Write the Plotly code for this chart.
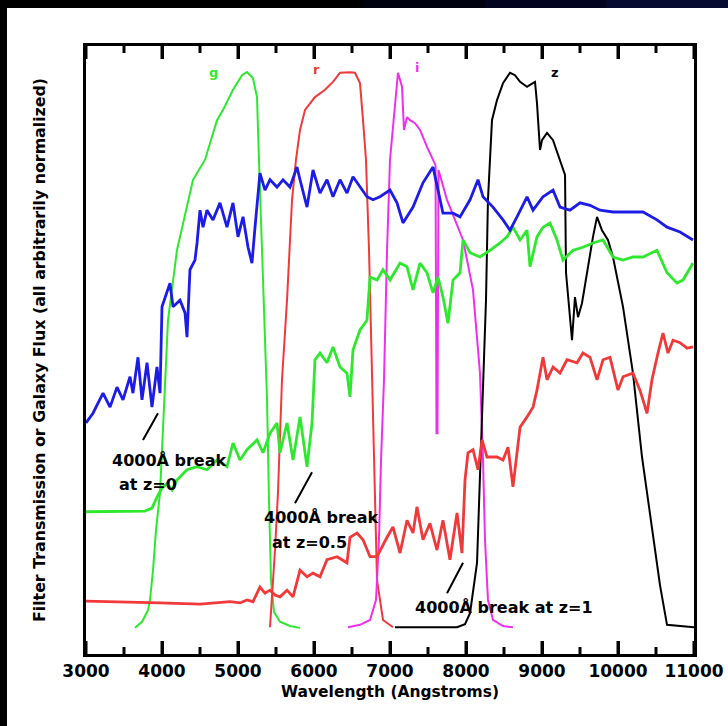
import plotly.graph_objects as go

# ---------------- filter transmission curves (normalized) ----------------
g_wave = [3645, 3737, 3816, 3842, 3882, 3921, 3974, 4026, 4079, 4197, 4408, 4566,
          4724, 4803, 4934, 5053, 5118, 5197, 5250, 5276, 5303, 5329, 5355, 5382,
          5408, 5434, 5474, 5553, 5684, 5816]
g_trans = [0.043, 0.053, 0.072, 0.089, 0.138, 0.204, 0.265, 0.418, 0.549, 0.664, 0.780, 0.813,
           0.878, 0.895, 0.928, 0.952, 0.957, 0.947, 0.916, 0.813, 0.714, 0.648, 0.533, 0.418,
           0.253, 0.122, 0.069, 0.053, 0.046, 0.043]

r_wave = [5421, 5447, 5487, 5526, 5579, 5645, 5711, 5763, 5816, 5882, 6013, 6145,
          6250, 6342, 6474, 6539, 6605, 6645, 6684, 6724, 6763, 6803, 6829, 6908, 7039]
r_trans = [0.044, 0.089, 0.171, 0.265, 0.451, 0.582, 0.747, 0.813, 0.862, 0.895, 0.916, 0.928,
           0.941, 0.956, 0.957, 0.956, 0.939, 0.878, 0.813, 0.664, 0.451, 0.265, 0.122, 0.056, 0.044]

i_wave = [6447, 6605, 6737, 6816, 6855, 6882, 6921, 6961, 7000, 7066, 7105, 7158,
          7184, 7224, 7263, 7329, 7395, 7487, 7566, 7599, 7612, 7625, 7638, 7750,
          7961, 8092, 8184, 8224, 8250, 8289, 8355, 8487, 8618]
i_trans = [0.044, 0.048, 0.056, 0.089, 0.188, 0.319, 0.451, 0.664, 0.813, 0.906, 0.956, 0.933,
           0.862, 0.883, 0.878, 0.873, 0.862, 0.834, 0.813, 0.804, 0.363, 0.363, 0.796, 0.747,
           0.681, 0.599, 0.462, 0.319, 0.188, 0.089, 0.056, 0.046, 0.044]

z_wave = [7066, 7882, 7987, 8053, 8145, 8184, 8224, 8263, 8289, 8316, 8342, 8408,
          8487, 8579, 8645, 8711, 8803, 8842, 8908, 8934, 8974, 9000, 9066, 9145,
          9237, 9303, 9316, 9355, 9395, 9434, 9474, 9526, 9592, 9671, 9724, 9789,
          9868, 9934, 10066, 10197, 10316, 10447, 10553, 10645, 11000]
z_trans = [0.044, 0.044, 0.049, 0.067, 0.150, 0.286, 0.451, 0.582, 0.747, 0.813, 0.878, 0.911,
           0.939, 0.956, 0.952, 0.941, 0.933, 0.936, 0.941, 0.906, 0.829, 0.845, 0.857, 0.845,
           0.813, 0.788, 0.627, 0.571, 0.516, 0.587, 0.554, 0.577, 0.627, 0.686, 0.719, 0.697,
           0.681, 0.653, 0.571, 0.462, 0.324, 0.204, 0.113, 0.048, 0.044]

# ---------------- galaxy spectra (arbitrary flux) ----------------
z0_wave = [3000, 3092, 3224, 3316, 3408, 3487, 3579, 3618, 3684, 3737, 3803, 3868,
           3934, 3974, 4000, 4066, 4105, 4145, 4237, 4303, 4329, 4368, 4434, 4461,
           4500, 4540, 4592, 4671, 4763, 4855, 4934, 5000, 5066, 5132, 5184, 5224,
           5289, 5355, 5421, 5513, 5592, 5684, 5776, 5816, 5908, 5987, 6079, 6171,
           6250, 6342, 6434, 6513, 6605, 6697, 6776, 6868, 7000, 7092, 7171, 7303,
           7434, 7566, 7632, 7697, 7829, 7921, 8053, 8158, 8224, 8355, 8487, 8579,
           8671, 8803, 8882, 9013, 9145, 9237, 9368, 9500, 9632, 9763, 9934, 10158,
           10329, 10513, 10645, 10816, 10987]
z0_flux = [0.380, 0.396, 0.429, 0.406, 0.439, 0.418, 0.456, 0.429, 0.488, 0.418, 0.479, 0.406,
           0.472, 0.429, 0.571, 0.594, 0.610, 0.571, 0.582, 0.561, 0.521, 0.632, 0.648, 0.676,
           0.730, 0.702, 0.730, 0.714, 0.742, 0.702, 0.742, 0.686, 0.719, 0.669, 0.643, 0.702,
           0.791, 0.763, 0.780, 0.768, 0.780, 0.768, 0.801, 0.780, 0.735, 0.796, 0.758, 0.780,
           0.752, 0.780, 0.758, 0.785, 0.768, 0.752, 0.747, 0.752, 0.763, 0.742, 0.709, 0.735,
           0.775, 0.801, 0.763, 0.725, 0.725, 0.719, 0.747, 0.780, 0.752, 0.735, 0.714, 0.697,
           0.719, 0.752, 0.730, 0.752, 0.763, 0.735, 0.730, 0.742, 0.738, 0.730, 0.727, 0.727,
           0.727, 0.714, 0.702, 0.694, 0.681]

z05_wave = [3000, 3447, 3776, 3868, 3934, 4000, 4066, 4132, 4197, 4329, 4461, 4592,
            4724, 4855, 4934, 5026, 5118, 5250, 5329, 5421, 5513, 5553, 5645, 5724,
            5816, 5908, 5974, 6013, 6079, 6171, 6250, 6342, 6434, 6474, 6513, 6605,
            6697, 6737, 6829, 6908, 7000, 7132, 7224, 7303, 7395, 7487, 7566, 7632,
            7697, 7763, 7829, 7921, 7961, 8053, 8184, 8316, 8447, 8539, 8618, 8711,
            8803, 8842, 8934, 9013, 9105, 9197, 9276, 9408, 9539, 9671, 9803, 9934,
            10066, 10197, 10329, 10513, 10645, 10776, 10855, 10987]
z05_flux = [0.234, 0.234, 0.235, 0.240, 0.258, 0.273, 0.280, 0.270, 0.286, 0.303, 0.308, 0.303,
            0.319, 0.308, 0.347, 0.319, 0.336, 0.352, 0.331, 0.363, 0.380, 0.331, 0.380, 0.319,
            0.390, 0.308, 0.380, 0.484, 0.495, 0.479, 0.505, 0.472, 0.462, 0.423, 0.500, 0.533,
            0.549, 0.620, 0.615, 0.632, 0.615, 0.643, 0.637, 0.599, 0.643, 0.627, 0.594, 0.620,
            0.587, 0.544, 0.615, 0.627, 0.681, 0.660, 0.653, 0.664, 0.676, 0.686, 0.702, 0.681,
            0.697, 0.637, 0.686, 0.702, 0.709, 0.681, 0.648, 0.664, 0.669, 0.676, 0.681, 0.653,
            0.648, 0.653, 0.653, 0.664, 0.627, 0.610, 0.615, 0.643]

z1_wave = [3000, 3447, 3974, 4500, 4895, 5026, 5118, 5197, 5289, 5355, 5421, 5487,
           5553, 5645, 5724, 5816, 5908, 5987, 6079, 6171, 6303, 6434, 6474, 6566,
           6645, 6737, 6829, 6961, 7039, 7132, 7224, 7303, 7355, 7434, 7526, 7618,
           7697, 7789, 7882, 7947, 7987, 8026, 8092, 8158, 8211, 8276, 8408, 8487,
           8553, 8618, 8711, 8803, 8882, 8934, 9013, 9066, 9145, 9237, 9329, 9461,
           9539, 9632, 9724, 9803, 9895, 10000, 10066, 10197, 10289, 10382, 10447, 10526,
           10592, 10658, 10724, 10816, 10908, 10987]
z1_flux = [0.087, 0.086, 0.084, 0.082, 0.086, 0.084, 0.089, 0.086, 0.110, 0.100, 0.105, 0.097,
           0.094, 0.105, 0.094, 0.138, 0.127, 0.133, 0.127, 0.155, 0.160, 0.150, 0.192, 0.199,
           0.188, 0.160, 0.160, 0.192, 0.209, 0.166, 0.220, 0.199, 0.242, 0.188, 0.215, 0.171,
           0.220, 0.155, 0.232, 0.166, 0.286, 0.331, 0.336, 0.303, 0.352, 0.324, 0.324, 0.319,
           0.340, 0.275, 0.373, 0.390, 0.406, 0.434, 0.488, 0.451, 0.472, 0.462, 0.484, 0.479,
           0.495, 0.488, 0.451, 0.484, 0.488, 0.434, 0.456, 0.462, 0.434, 0.396, 0.451, 0.495,
           0.528, 0.495, 0.516, 0.512, 0.503, 0.505]

# ---------------- labels ----------------
x_ticks = [3000, 4000, 5000, 6000, 7000, 8000, 9000, 10000, 11000]
x_minor_ticks = [3500, 4500, 5500, 6500, 7500, 8500, 9500, 10500]
filter_names = ["g", "r", "i", "z"]
filter_label_pos = [(4671, 0.957), (6039, 0.961), (7355, 0.964), (9171, 0.957)]
break_text = [("4000Å break", 3316, 0.319), ("at z=0", 3408, 0.278),
              ("4000Å break", 5316, 0.225), ("at z=0.5", 5421, 0.184),
              ("4000Å break at z=1", 7303, 0.077)]
break_pointers = [((3750, 0.352), (3947, 0.396)),
                  ((5750, 0.248), (5974, 0.299)),
                  ((7750, 0.100), (7961, 0.150))]

GREEN = "#2ee82e"
BLUE = "#1c1ce6"
RED = "#f03a3a"
MAGENTA = "#ee30ee"
BLACK = "#000000"

fig = go.Figure()

for wave, trans, color in [(g_wave, g_trans, GREEN), (r_wave, r_trans, RED),
                           (i_wave, i_trans, MAGENTA), (z_wave, z_trans, BLACK)]:
    fig.add_trace(go.Scatter(x=wave, y=trans, mode="lines",
                             line=dict(color=color, width=2), showlegend=False))

for wave, flux, color in [(z1_wave, z1_flux, RED), (z05_wave, z05_flux, GREEN),
                          (z0_wave, z0_flux, BLUE)]:
    fig.add_trace(go.Scatter(x=wave, y=flux, mode="lines",
                             line=dict(color=color, width=2.8), showlegend=False))

font_b = dict(family="DejaVu Sans", color="black", weight="bold")

annotations = []
for name, (wx, wy), color in zip(filter_names, filter_label_pos,
                                 [GREEN, RED, MAGENTA, BLACK]):
    annotations.append(dict(x=wx, y=wy, text=name, showarrow=False,
                            font=dict(family="DejaVu Sans", size=13, color=color,
                                      weight="bold")))
for txt, wx, wy in break_text:
    annotations.append(dict(x=wx, y=wy, text=txt, showarrow=False, xanchor="left",
                            yanchor="middle", font=dict(size=16, **font_b)))

shapes = []
for (x0, y0), (x1, y1) in break_pointers:
    shapes.append(dict(type="line", xref="x", yref="y", x0=x0, y0=y0, x1=x1, y1=y1,
                       line=dict(color="black", width=2)))

L, R, T, B = 86, 34, 46, 72
W, H = 728, 726
pw, ph = W - L - R, H - T - B

# inward tick marks on the bottom and top frame edges
for vals, tlen in [(x_ticks, 13), (x_minor_ticks, 7)]:
    frac = tlen / ph
    for v in vals:
        shapes.append(dict(type="line", xref="x", yref="paper", x0=v, x1=v, y0=0, y1=frac,
                           line=dict(color="black", width=3), layer="above"))
        shapes.append(dict(type="line", xref="x", yref="paper", x0=v, x1=v, y0=1, y1=1 - frac,
                           line=dict(color="black", width=3), layer="above"))


def px(xp):
    return (xp - L) / pw


def py(yp):
    return (H - B - yp) / ph


# dark frame along the top and left edges of the page
shapes.append(dict(type="rect", xref="paper", yref="paper", x0=px(0), x1=px(7),
                   y0=py(H), y1=py(0), fillcolor="black", line=dict(width=0), layer="above"))
band_cols = ["#000000", "#000000", "#000000", "#010210", "#030520", "#070a30"]
seg = W / len(band_cols)
for k, c in enumerate(band_cols):
    shapes.append(dict(type="rect", xref="paper", yref="paper", x0=px(k * seg),
                       x1=px((k + 1) * seg + 1), y0=py(8), y1=py(0), fillcolor=c,
                       line=dict(width=0), layer="above"))

fig.update_layout(
    width=W, height=H,
    margin=dict(l=L, r=R, t=T, b=B, autoexpand=False),
    paper_bgcolor="white", plot_bgcolor="white",
    annotations=annotations, shapes=shapes,
    xaxis=dict(range=[3000, 11000], tickmode="array", tickvals=x_ticks,
               ticktext=[str(v) for v in x_ticks],
               ticks="inside", ticklen=13, tickwidth=3, tickcolor="black",
               showline=True, linecolor="black", linewidth=3, mirror="allticks",
               showgrid=False, zeroline=False, automargin=False,
               tickfont=dict(size=17, **font_b),
               title=dict(text="Wavelength (Angstroms)", font=dict(size=15.5, **font_b),
                          standoff=6)),
    yaxis=dict(range=[0, 1], showticklabels=False, ticks="",
               showline=True, linecolor="black", linewidth=3, mirror=True,
               showgrid=False, zeroline=False, automargin=False,
               title=dict(text="Filter Transmission or Galaxy Flux (all arbitrarily normalized)",
                          font=dict(size=15.8, **font_b), standoff=34)),
)

fig.write_html("out.html")
